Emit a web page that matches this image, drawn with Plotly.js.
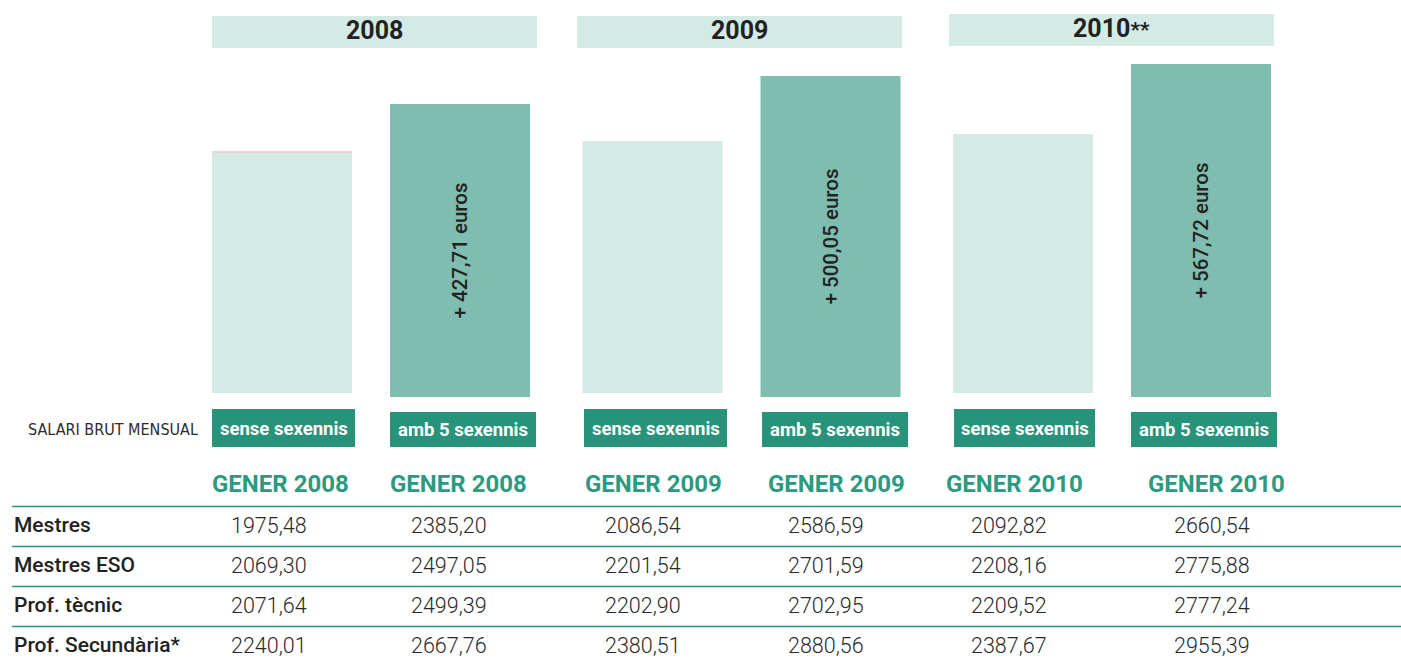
<!DOCTYPE html>
<html>
<head>
<meta charset="utf-8">
<script src="https://cdn.plot.ly/plotly-3.0.1.min.js"></script>
<style>
html,body{margin:0;padding:0;background:#fff;}
#chart{width:1401px;height:659px;}
</style>
</head>
<body>
<div id="chart"></div>
<script>
// ---------- data ----------
var years = [2008, 2009, 2010];
var yearTitles = ['2008', '2009', '2010<span style="font-size:21px">**</span>'];
// bar heights (relative units)
var senseHeights = [241, 252, 259];
var ambHeights = [293, 321, 333];
var increments = [427.71, 500.05, 567.72];
var barLabelSense = 'sense sexennis';
var barLabelAmb = 'amb 5 sexennis';
var rowTitle = 'SALARI BRUT MENSUAL';
var colHeaders = ['GENER 2008', 'GENER 2008', 'GENER 2009', 'GENER 2009', 'GENER 2010', 'GENER 2010'];
var rowLabels = ['Mestres', 'Mestres ESO', 'Prof. tècnic', 'Prof. Secundària*'];
var mestres = [1975.48, 2385.20, 2086.54, 2586.59, 2092.82, 2660.54];
var mestresESO = [2069.30, 2497.05, 2201.54, 2701.59, 2208.16, 2775.88];
var profTecnic = [2071.64, 2499.39, 2202.90, 2702.95, 2209.52, 2777.24];
var profSecundaria = [2240.01, 2667.76, 2380.51, 2880.56, 2387.67, 2955.39];
var tableRows = [mestres, mestresESO, profTecnic, profSecundaria];

// ---------- helpers ----------
var W = 1401, H = 659;
function px(x){ return x / W; }
function py(y){ return 1 - y / H; }
function fmt(v){ return v.toFixed(2).replace('.', ','); }

var LIGHT = '#D4EBE5', DARK = '#7FBDB0', TEAL = '#27937B', INK = '#222222';

// ---------- traces ----------
var tSense = {
  type: 'bar', x: years, y: senseHeights, xaxis: 'x', yaxis: 'y',
  marker: {color: LIGHT}, width: 0.3779, offset: -0.4291,
  hoverinfo: 'skip', showlegend: false
};
var tAmb = {
  type: 'bar', x: years, y: ambHeights, xaxis: 'x', yaxis: 'y2',
  marker: {color: DARK}, width: 0.3779, offset: 0.0513,
  text: increments.map(function(v){ return '+ ' + fmt(v) + ' euros'; }),
  textposition: 'inside', insidetextanchor: 'middle', textangle: -90,
  textfont: {family: 'Roboto', size: 20.5, color: INK, weight: 500},
  constraintext: 'none',
  hoverinfo: 'skip', showlegend: false
};

// ---------- layout decorations ----------
var shapes = [];
var annotations = [];

// faint top edge on the first light bar
shapes.push({type: 'line', xref: 'paper', yref: 'paper', x0: px(212), x1: px(352), y0: py(152), y1: py(152),
  line: {color: '#E6D6D6', width: 2}});

// year header boxes
var headerBoxes = [[212, 537, 16, 48], [577, 902, 16, 48], [949, 1274, 14, 46]];
headerBoxes.forEach(function(b, i){
  shapes.push({type: 'rect', xref: 'paper', yref: 'paper', x0: px(b[0]), x1: px(b[1]), y0: py(b[3]), y1: py(b[2]),
    fillcolor: LIGHT, line: {width: 0}, layer: 'below'});
  annotations.push({xref: 'paper', yref: 'paper', x: px((b[0] + b[1]) / 2), y: py((b[2] + b[3]) / 2 - 1),
    xanchor: 'center', yanchor: 'middle', showarrow: false, text: '<b>' + yearTitles[i] + '</b>',
    font: {family: 'Roboto', size: 25, color: INK}});
});

// label boxes under bars
var labelBoxes = [[212, 355, 409, 447, barLabelSense], [390, 536, 412, 447, barLabelAmb],
                  [584, 727, 409, 447, barLabelSense], [762, 908, 412, 447, barLabelAmb],
                  [954, 1095, 409, 447, barLabelSense], [1131, 1277, 412, 447, barLabelAmb]];
labelBoxes.forEach(function(b){
  shapes.push({type: 'rect', xref: 'paper', yref: 'paper', x0: px(b[0]), x1: px(b[1]), y0: py(b[3]), y1: py(b[2]),
    fillcolor: TEAL, line: {width: 0}});
  annotations.push({xref: 'paper', yref: 'paper', x: px((b[0] + b[1]) / 2), y: py((b[2] + b[3]) / 2 + 0.5),
    xanchor: 'center', yanchor: 'middle', showarrow: false, text: b[4],
    font: {family: 'Roboto', size: 18.5, color: '#ffffff', weight: 700}});
});

// row title
annotations.push({xref: 'paper', yref: 'paper', x: px(200), y: py(429), xanchor: 'right', yanchor: 'middle',
  showarrow: false, text: rowTitle, font: {family: 'DejaVu Sans Condensed, Roboto Condensed, Roboto', size: 16, color: '#2b2b2b'}});

// column headers
var headerCenters = [280, 459, 653, 836, 1015, 1216];
var valueCenters = [269, 449, 643, 826, 1009, 1212];
colHeaders.forEach(function(h, i){
  annotations.push({xref: 'paper', yref: 'paper', x: px(headerCenters[i]), y: py(484), xanchor: 'center', yanchor: 'middle',
    showarrow: false, text: '<b>' + h + '</b>', font: {family: 'Roboto', size: 24, color: '#2A9A80', weight: 900}});
});

// table lines and cells
var lineYs = [506.5, 546.5, 586.5, 626.5];
var rowYs = [525, 565, 605, 645];
lineYs.forEach(function(y){
  shapes.push({type: 'line', xref: 'paper', yref: 'paper', x0: px(12), x1: 1, y0: py(y), y1: py(y),
    line: {color: TEAL, width: 1.5}});
});
rowLabels.forEach(function(lbl, r){
  annotations.push({xref: 'paper', yref: 'paper', x: px(12), y: py(rowYs[r]), xanchor: 'left', yanchor: 'middle',
    showarrow: false, text: lbl, font: {family: 'Roboto', size: 21, color: INK, weight: 500}});
  tableRows[r].forEach(function(v, c){
    annotations.push({xref: 'paper', yref: 'paper', x: px(valueCenters[c]), y: py(rowYs[r]), xanchor: 'center', yanchor: 'middle',
      showarrow: false, text: fmt(v), font: {family: 'Roboto', size: 21.5, color: '#2a2a2a', weight: 300}});
  });
});

var x0 = 2008 - 371 / 370.5, x1 = 2008 + (W - 371) / 370.5;
var layout = {
  width: W, height: H, margin: {l: 0, r: 0, t: 0, b: 0, pad: 0},
  paper_bgcolor: '#ffffff', plot_bgcolor: 'rgba(0,0,0,0)',
  showlegend: false, barmode: 'overlay',
  xaxis: {range: [x0, x1], domain: [0, 1], anchor: 'y', visible: false, fixedrange: true},
  yaxis: {range: [0, 393], domain: [1 - 393 / H, 1], anchor: 'x', visible: false, fixedrange: true},
  yaxis2: {range: [0, 397], domain: [1 - 397 / H, 1], anchor: 'x', visible: false, fixedrange: true},
  shapes: shapes, annotations: annotations
};

Plotly.newPlot('chart', [tSense, tAmb], layout, {displayModeBar: false, staticPlot: true});
</script>
</body>
</html>
